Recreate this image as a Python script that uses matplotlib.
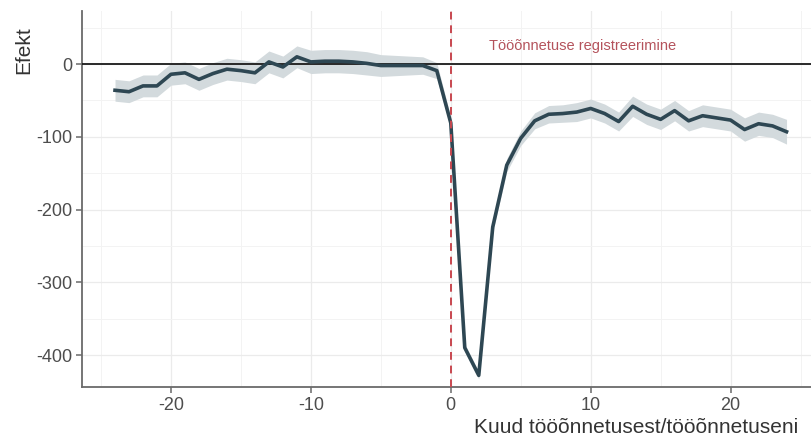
import numpy as np
import matplotlib.pyplot as plt
from matplotlib.ticker import MultipleLocator

plt.rcParams['font.family'] = ['Liberation Sans', 'DejaVu Sans']
plt.rcParams['axes.unicode_minus'] = False

# kuud tööõnnetusest
kuud = list(range(-24, 25))

efekt = [-36, -38, -30, -30, -14, -12, -21, -13, -7, -9,
         -12, 3, -4, 10, 3, 4, 4, 3, 1, -2,
         -2, -2, -2, -9, -81, -390, -428, -224, -139, -102,
         -78, -69, -68, -66, -61, -68, -79, -58, -69, -76,
         -64, -78, -71, -74, -77, -90, -82, -85, -93]

# usaldusvahemiku poollaius
vahemik = [15, 15, 15, 15, 15, 15, 15, 15, 15, 15,
           15, 15, 15, 15, 16, 16, 16, 16, 16, 15,
           14, 13, 12, 11, 8, 5, 5, 7, 9, 10,
           11, 12, 12, 13, 13, 13, 13, 14, 14, 14,
           14, 14, 15, 15, 15, 16, 16, 16, 17]

alumine = [e - v for e, v in zip(efekt, vahemik)]
ulemine = [e + v for e, v in zip(efekt, vahemik)]

xticks = [-20, -10, 0, 10, 20]
yticks = [0, -100, -200, -300, -400]

fig = plt.figure(figsize=(8.12, 4.36), dpi=100)
ax = fig.add_axes([82/812, 1 - 387/436, 1 - 82/812 + 0.01, (387 - 11)/436])

ax.fill_between(kuud, alumine, ulemine, color='#d3dadd', lw=0, zorder=2)
ax.plot(kuud, efekt, color='#2e4753', lw=2.6, zorder=4, solid_joinstyle='round')
ax.axhline(0, color='#1a1a1a', lw=1.3, zorder=3)
ax.axvline(0, color='#c8474f', lw=1.4, ls=(0, (4, 3)), zorder=5)

ax.text(2.7, 25, 'Tööõnnetuse registreerimine', color='#b4535c', fontsize=10.5,
        va='center', ha='left', zorder=6)

ax.set_xlim(-26.36, 26.4)
ax.set_ylim(-444, 73)
ax.set_xticks(xticks)
ax.set_yticks(yticks)
ax.xaxis.set_minor_locator(MultipleLocator(5))
ax.yaxis.set_minor_locator(MultipleLocator(50))
ax.grid(which='major', color='#ebebeb', lw=0.9, zorder=0)
ax.grid(which='minor', color='#f3f3f3', lw=0.7, zorder=0)
ax.set_axisbelow(True)

for s in ['top', 'right']:
    ax.spines[s].set_visible(False)
for s in ['left', 'bottom']:
    ax.spines[s].set_color('#6a6a6a')
    ax.spines[s].set_linewidth(1.3)

ax.tick_params(which='major', length=4, width=1.1, color='#6a6a6a',
               labelsize=13, labelcolor='#4d4d4d', pad=3)
ax.tick_params(which='minor', length=0)

fig.text(0.018, 1 - 50/436, 'Efekt', rotation=90, fontsize=15,
         color='#333333', ha='left', va='center')
fig.text(798/812, 1 - 427/436, 'Kuud tööõnnetusest/tööõnnetuseni', fontsize=15,
         color='#333333', ha='right', va='center')

fig.savefig('out.png', dpi=100)
